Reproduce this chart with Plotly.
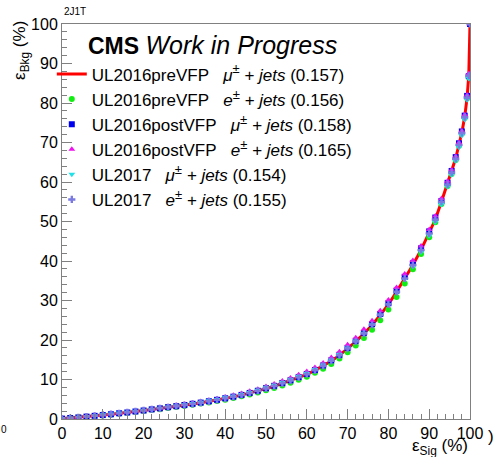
import plotly.graph_objects as go

# shared signal-efficiency grid (%)
X_PTS = [0, 2, 4, 6, 8, 10, 12, 14, 16, 18, 20, 22, 24, 26, 28, 30, 32, 34, 36, 38,
         40, 42, 44, 46, 48, 50, 52, 54, 56, 58, 60, 62, 64, 66, 68, 70, 72, 74, 76, 78,
         80, 82, 84, 86, 88, 90, 91.5, 93, 94.5, 95.5, 96.5, 97.3, 98, 98.7, 99.3, 99.7, 100]

# background efficiencies (%)
Y_16PRE_MU = [0.1, 0.25, 0.4, 0.6, 0.8, 1.0, 1.2, 1.4, 1.65, 1.9, 2.15, 2.4, 2.65, 2.95, 3.2, 3.5, 3.8, 4.1, 4.45, 4.8,
              5.2, 5.6, 6.05, 6.55, 7.1, 7.7, 8.3, 9.0, 9.7, 10.5, 11.3, 12.3, 13.4, 14.7, 16.1, 17.8, 19.6, 21.6, 23.8, 26.3,
              29.0, 32.2, 35.6, 39.0, 42.8, 47.0, 50.5, 55.0, 59.5, 62.5, 66.0, 69.5, 72.5, 76.5, 81.5, 87.0, 100]
Y_16PRE_E = [0.05, 0.2, 0.35, 0.55, 0.75, 0.9, 1.1, 1.3, 1.55, 1.8, 2.0, 2.25, 2.5, 2.8, 3.05, 3.3, 3.6, 3.9, 4.2, 4.55,
             4.9, 5.3, 5.75, 6.2, 6.7, 7.3, 7.85, 8.5, 9.2, 9.95, 10.7, 11.7, 12.7, 13.95, 15.3, 16.9, 18.6, 20.5, 22.6, 25.0,
             27.7, 30.9, 34.3, 37.9, 41.8, 46.0, 49.8, 54.4, 59.0, 62.0, 65.6, 69.2, 72.2, 76.2, 81.2, 86.5, 100]
Y_16POST_MU = [0.1, 0.25, 0.4, 0.6, 0.8, 1.0, 1.2, 1.45, 1.65, 1.9, 2.15, 2.45, 2.7, 3.0, 3.25, 3.55, 3.85, 4.15, 4.5, 4.85,
               5.25, 5.65, 6.1, 6.6, 7.15, 7.8, 8.4, 9.1, 9.8, 10.6, 11.4, 12.4, 13.55, 14.85, 16.25, 18.0, 19.8, 21.8, 24.0, 26.6,
               29.3, 32.5, 36.0, 39.4, 43.2, 47.5, 51.0, 55.2, 59.8, 62.8, 66.3, 69.8, 72.8, 76.8, 81.8, 86.8, 100]
Y_16POST_E = [0.15, 0.3, 0.5, 0.7, 0.9, 1.1, 1.3, 1.55, 1.8, 2.05, 2.3, 2.6, 2.85, 3.15, 3.45, 3.75, 4.05, 4.4, 4.75, 5.15,
              5.55, 6.0, 6.45, 7.0, 7.55, 8.2, 8.85, 9.6, 10.35, 11.2, 12.0, 13.05, 14.2, 15.55, 17.0, 18.8, 20.6, 22.7, 24.9, 27.4,
              30.1, 33.3, 36.7, 40.1, 43.8, 48.0, 51.4, 55.8, 60.2, 63.1, 66.5, 70.0, 73.0, 77.0, 82.0, 87.5, 100]
Y_17_MU = [0.12, 0.28, 0.45, 0.65, 0.85, 1.05, 1.25, 1.5, 1.72, 1.98, 2.22, 2.5, 2.75, 3.05, 3.32, 3.62, 3.92, 4.25, 4.6, 4.95,
           5.35, 5.77, 6.22, 6.73, 7.3, 7.9, 8.52, 9.22, 9.95, 10.75, 11.55, 12.55, 13.65, 14.95, 16.35, 18.0, 19.75, 21.7, 23.85, 26.3,
           28.9, 32.0, 35.3, 38.6, 42.3, 46.4, 49.9, 54.3, 58.8, 61.8, 65.3, 68.8, 71.8, 75.8, 80.8, 86.2, 100]
Y_17_E = [0.1, 0.25, 0.42, 0.62, 0.82, 1.02, 1.22, 1.43, 1.67, 1.92, 2.17, 2.42, 2.68, 2.97, 3.23, 3.53, 3.83, 4.13, 4.48, 4.83,
          5.23, 5.63, 6.08, 6.58, 7.13, 7.73, 8.33, 9.03, 9.73, 10.53, 11.33, 12.33, 13.43, 14.73, 16.13, 17.83, 19.63, 21.63, 23.83, 26.33,
          29.03, 32.2, 35.6, 39.0, 42.8, 47.0, 50.5, 55.0, 59.4, 62.4, 65.9, 69.4, 72.4, 76.4, 81.4, 86.9, 100]

NB = "\u00a0"
SUP = '<sup><span style="font-size:13px">±</span></sup>'
NAMES = [
    f"UL2016preVFP{NB*3}<i>μ{SUP}{NB}+ jets</i> (0.157)",
    f"UL2016preVFP{NB*3}<i>e{SUP}{NB}+ jets</i> (0.156)",
    f"UL2016postVFP{NB*3}<i>μ{SUP}{NB}+ jets</i> (0.158)",
    f"UL2016postVFP{NB*3}<i>e{SUP}{NB}+ jets</i> (0.165)",
    f"UL2017{NB*3}<i>μ{SUP}{NB}+ jets</i> (0.154)",
    f"UL2017{NB*3}<i>e{SUP}{NB}+ jets</i> (0.155)",
]

FONT = "Liberation Sans, Arial, sans-serif"
fig = go.Figure()

fig.add_trace(go.Scatter(x=X_PTS, y=Y_16PRE_MU, mode="lines", name=NAMES[0],
                         line=dict(color="#ff0000", width=3), legendgroup="a"))

marker_series = [
    (Y_16PRE_E, NAMES[1], "#11ee11", "circle", 6),
    (Y_16POST_MU, NAMES[2], "#0000ee", "square", 6),
    (Y_16POST_E, NAMES[3], "#ee11ee", "triangle-up", 6),
    (Y_17_MU, NAMES[4], "#22e0e8", "triangle-down", 6),
    (Y_17_E, NAMES[5], "#7a7ae0", "cross", 6),
]
for i, (ys, nm, col, sym, sz) in enumerate(marker_series):
    fig.add_trace(go.Scatter(x=X_PTS, y=ys, mode="markers", name=nm,
                             marker=dict(color=col, symbol=sym, size=sz, line=dict(width=0)),
                             legendgroup="g%d" % i))

axis_common = dict(range=[0, 100], dtick=10, ticks="inside", ticklen=10, tickcolor="#808080",
                   showline=True, linecolor="#808080", linewidth=1, mirror=True,
                   showgrid=False, zeroline=False,
                   tickfont=dict(family=FONT, size=16, color="black"),
                   minor=dict(ticks="inside", ticklen=5, dtick=2, tickcolor="#808080", showgrid=False))

fig.update_xaxes(**axis_common)
fig.update_yaxes(**axis_common)

fig.update_layout(
    width=496, height=457,
    margin=dict(l=62, r=26, t=24, b=37.5),
    paper_bgcolor="white", plot_bgcolor="white",
    font=dict(family=FONT, color="black"),
    showlegend=True,
    legend=dict(x=-0.025, y=0.918, xanchor="left", yanchor="top",
                font=dict(family=FONT, size=17, color="black"),
                bgcolor="rgba(0,0,0,0)", tracegroupgap=0, itemsizing="trace"),
    annotations=[
        dict(text='<b>CMS</b> <i><span style="font-size:25px">Work in Progress</span></i>', x=0.06, y=0.948,
             xref="paper", yref="paper",
             xanchor="left", yanchor="middle", showarrow=False, font=dict(family=FONT, size=23)),
        dict(text="ε<sub>Bkg</sub> (%)", x=-0.1, y=1.012, xref="paper", yref="paper",
             xanchor="center", yanchor="top", textangle=-90, showarrow=False, font=dict(family=FONT, size=17)),
        dict(text="ε<sub>Sig</sub> (%)", x=1.0, y=-0.071, xref="paper", yref="paper",
             xanchor="right", yanchor="middle", showarrow=False, font=dict(family=FONT, size=17)),
        dict(text="2J1T", x=0.0, y=1.032, xref="paper", yref="paper",
             xanchor="left", yanchor="middle", showarrow=False, font=dict(family=FONT, size=10)),
        dict(text="0", x=-0.142, y=-0.027, xref="paper", yref="paper",
             xanchor="center", yanchor="middle", showarrow=False, font=dict(family=FONT, size=10)),
        dict(text=")", x=1.052, y=-0.044, xref="paper", yref="paper",
             xanchor="center", yanchor="middle", showarrow=False, font=dict(family=FONT, size=17)),
    ],
)

fig.write_html("out.html")
